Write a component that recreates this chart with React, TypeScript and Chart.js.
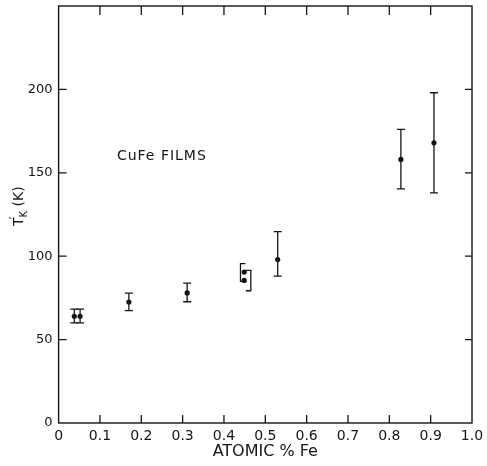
import React, { useEffect, useRef } from "react";
import { Chart, registerables } from "chart.js";

Chart.register(...registerables);

// ---- data ----
const atomicFe = [0.038, 0.052, 0.17, 0.311, 0.449, 0.449, 0.53, 0.828, 0.908];
const tkValues = [64, 64, 72.5, 78, 90.5, 85.5, 98, 158, 168];
const errLow: (number | null)[] = [60, 60, 67.4, 72.7, null, null, 88, 140.4, 138];
const errHigh: (number | null)[] = [68.3, 68.3, 77.9, 83.9, null, null, 114.7, 176, 198];

// bracket-style error ranges for the pair of points near 0.45
const bracketX = [0.44, 0.465];
const bracketLow = [84.9, 79.3];
const bracketHigh = [95.5, 91.5];
const bracketSide = ["left", "right"];

const xTicks = [0, 0.1, 0.2, 0.3, 0.4, 0.5, 0.6, 0.7, 0.8, 0.9, 1.0];
const yTicks = [0, 50, 100, 150, 200];

const annotationText = "CuFe FILMS";
const annotationPos = { x: 0.141, y: 160 };

const INK = "#151515";
const FONT = "'DejaVu Sans', sans-serif";

const decorPlugin = {
  id: "decor",
  afterDatasetsDraw(chart: any) {
    const { ctx, scales } = chart;
    const xs = scales.x;
    const ys = scales.y;
    ctx.save();
    ctx.strokeStyle = INK;
    ctx.lineWidth = 1.3;
    // error bars
    const cap = 4;
    for (let i = 0; i < atomicFe.length; i++) {
      const lo = errLow[i];
      const hi = errHigh[i];
      if (lo == null || hi == null) continue;
      const px = xs.getPixelForValue(atomicFe[i]);
      const pLo = ys.getPixelForValue(lo);
      const pHi = ys.getPixelForValue(hi);
      ctx.beginPath();
      ctx.moveTo(px, pLo);
      ctx.lineTo(px, pHi);
      ctx.moveTo(px - cap, pLo);
      ctx.lineTo(px + cap, pLo);
      ctx.moveTo(px - cap, pHi);
      ctx.lineTo(px + cap, pHi);
      ctx.stroke();
    }
    // brackets
    for (let i = 0; i < bracketX.length; i++) {
      const px = xs.getPixelForValue(bracketX[i]);
      const pLo = ys.getPixelForValue(bracketLow[i]);
      const pHi = ys.getPixelForValue(bracketHigh[i]);
      const h = bracketSide[i] === "left" ? 5 : -5;
      ctx.beginPath();
      ctx.moveTo(px + h, pHi);
      ctx.lineTo(px, pHi);
      ctx.lineTo(px, pLo);
      ctx.lineTo(px + h, pLo);
      ctx.stroke();
    }
    ctx.restore();
  },
  afterDraw(chart: any) {
    const { ctx, chartArea, scales } = chart;
    const { left, right, top, bottom } = chartArea;
    const xs = scales.x;
    const ys = scales.y;
    ctx.save();
    ctx.strokeStyle = INK;
    ctx.lineWidth = 1.4;
    ctx.strokeRect(left, top, right - left, bottom - top);
    ctx.lineWidth = 1.3;
    ctx.beginPath();
    for (const v of xTicks) {
      if (v <= 0 || v >= 1) continue;
      const px = xs.getPixelForValue(v);
      ctx.moveTo(px, bottom);
      ctx.lineTo(px, bottom - 8);
      ctx.moveTo(px, top);
      ctx.lineTo(px, top + 9);
    }
    for (const v of yTicks) {
      if (v <= 0) continue;
      const py = ys.getPixelForValue(v);
      ctx.moveTo(left, py);
      ctx.lineTo(left + 8, py);
      ctx.moveTo(right, py);
      ctx.lineTo(right - 7, py);
    }
    ctx.stroke();

    // annotation
    ctx.fillStyle = INK;
    ctx.font = `14px ${FONT}`;
    (ctx as any).letterSpacing = "1px";
    ctx.textAlign = "left";
    ctx.textBaseline = "middle";
    ctx.fillText(
      annotationText,
      xs.getPixelForValue(annotationPos.x),
      ys.getPixelForValue(annotationPos.y)
    );
    (ctx as any).letterSpacing = "0px";

    // y axis title: T'_K (K), rotated
    const cx = 19;
    const cy = ys.getPixelForValue(130);
    ctx.translate(cx, cy);
    ctx.rotate(-Math.PI / 2);
    ctx.textBaseline = "middle";
    const mainFont = `14px ${FONT}`;
    const subFont = `10px ${FONT}`;
    ctx.font = mainFont;
    const wT = ctx.measureText("T").width;
    const wRest = ctx.measureText(" (K)").width;
    ctx.font = subFont;
    const wK = ctx.measureText("K").width;
    const total = wT + wK + wRest;
    let pos = -total / 2;
    ctx.font = mainFont;
    ctx.fillText("T", pos, 0);
    ctx.fillText("\u2032", pos + wT - 2, -4);
    pos += wT;
    ctx.font = subFont;
    ctx.fillText("K", pos, 5);
    pos += wK;
    ctx.font = mainFont;
    ctx.fillText(" (K)", pos, 0);
    ctx.restore();
  },
};

export default function App() {
  const ref = useRef<HTMLCanvasElement | null>(null);
  useEffect(() => {
    document.body.style.margin = "0";
    if (!ref.current) return;
    const chart = new Chart(ref.current, {
      type: "scatter",
      data: {
        datasets: [
          {
            data: atomicFe.map((x, i) => ({ x, y: tkValues[i] })),
            backgroundColor: INK,
            borderWidth: 0,
            pointRadius: 2.6,
          },
        ],
      },
      options: {
        animation: false,
        responsive: false,
        layout: { autoPadding: false, padding: { top: 6, right: 15, left: 0, bottom: 0 } },
        plugins: { legend: { display: false }, tooltip: { enabled: false } },
        scales: {
          x: {
            type: "linear",
            min: 0,
            max: 1,
            afterBuildTicks: (s: any) => {
              s.ticks = xTicks.map((v) => ({ value: v }));
            },
            afterFit: (s: any) => {
              s.height = 43;
              s.paddingLeft = 0;
              s.paddingRight = 0;
            },
            grid: { display: false, drawTicks: false },
            border: { display: false },
            ticks: {
              padding: 5,
              color: INK,
              font: { family: FONT, size: 14 },
              maxRotation: 0,
              autoSkip: false,
              callback: (v: any) => (v === 0 ? "0" : Number(v).toFixed(1)),
            },
            title: {
              display: true,
              text: "ATOMIC % Fe",
              color: INK,
              font: { family: FONT, size: 16 },
              padding: { top: 0, bottom: 5 },
            },
          },
          y: {
            type: "linear",
            min: 0,
            max: 250,
            afterBuildTicks: (s: any) => {
              s.ticks = yTicks.map((v) => ({ value: v }));
            },
            afterFit: (s: any) => {
              s.width = 58.6;
              s.paddingTop = 0;
              s.paddingBottom = 0;
            },
            grid: { display: false, drawTicks: false },
            border: { display: false },
            ticks: {
              padding: 6,
              color: INK,
              font: { family: FONT, size: 13 },
              autoSkip: false,
              callback: (v: any) => String(v),
            },
          },
        },
      },
      plugins: [decorPlugin],
    } as any);
    return () => chart.destroy();
  }, []);
  return (
    <div style={{ width: 487, height: 466 }}>
      <canvas ref={ref} width={487} height={466} style={{ display: "block" }} />
    </div>
  );
}
